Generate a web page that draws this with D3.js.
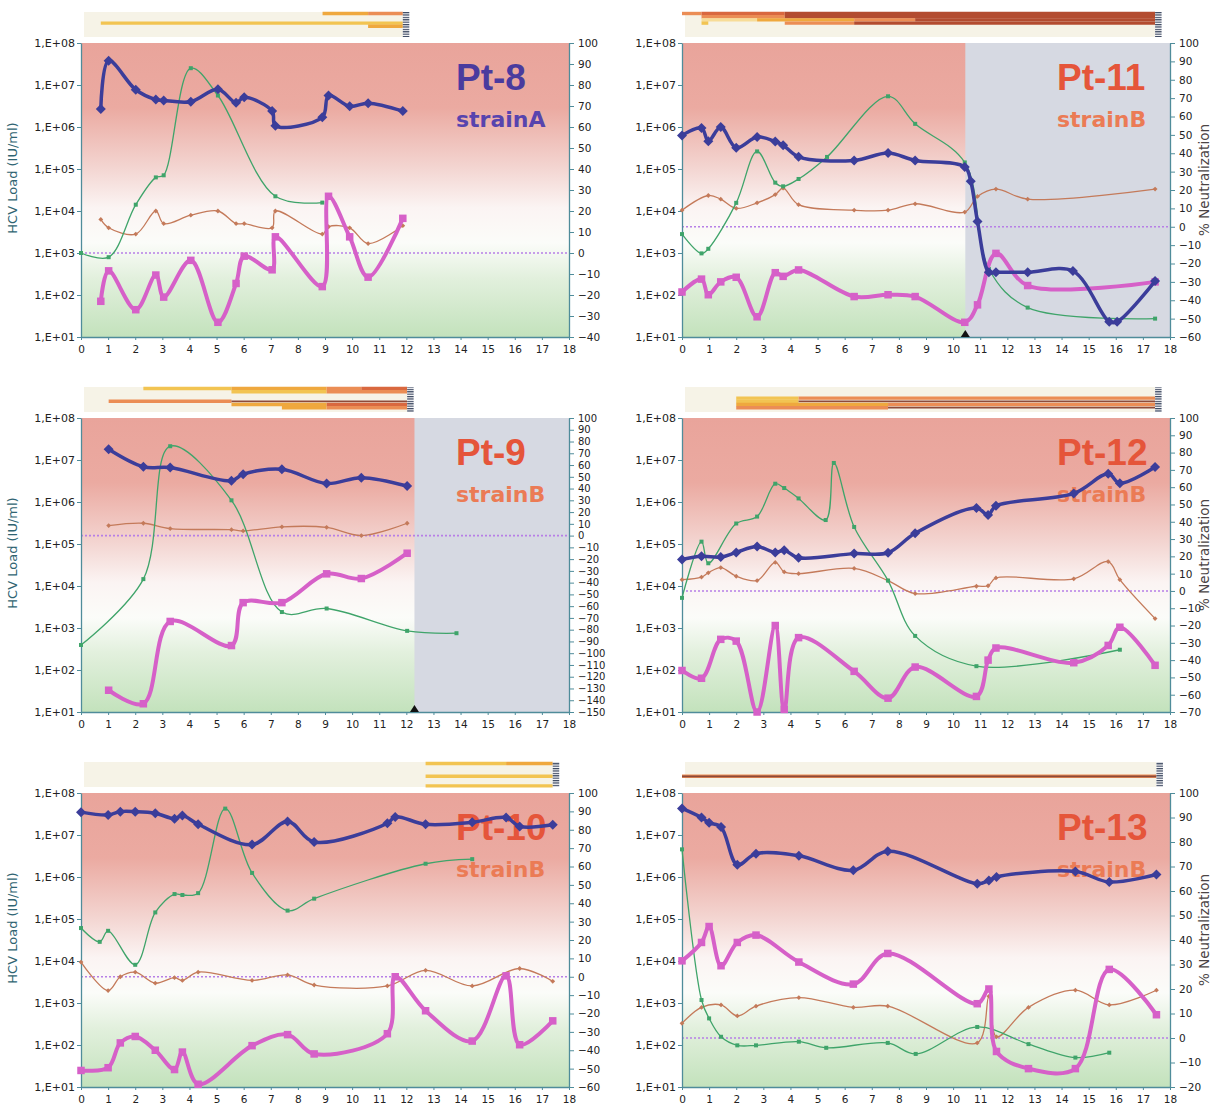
<!DOCTYPE html>
<html>
<head>
<meta charset="utf-8">
<script src="https://cdn.jsdelivr.net/npm/d3@7"></script>
<style>
  body { margin: 0; background: #fff; }
  svg { display: block; }
</style>
</head>
<body>
<svg id="chart" width="1215" height="1110"></svg>
<script>
// ---------------- data: sampling weeks and measured series per patient ----------------
// HCV load (IU/ml, left log axis); green / orange / magenta: % neutralization (right axis)

const pt8Weeks   = [0, 0.73, 1.02, 2.02, 2.76, 3.05, 4.05, 5.05, 5.72, 6.02, 7.05, 7.17, 8.9, 9.13, 9.91, 10.59, 11.87];
const pt8Load    = [null, 2.7e6, 3.8e7, 7.7e6, 4.5e6, 4.3e6, 4.0e6, 7.9e6, 3.8e6, 5.1e6, 2.4e6, 1.07e6, 1.7e6, 5.6e6, 3.1e6, 3.7e6, 2.4e6];
const pt8Green   = [0, null, -2, 23, 36, 37, 88, 75, null, null, null, 27, 24, null, null, null, null];
const pt8Orange  = [null, 16, 12, 9, 20, 14, 18, 20, 14, 14, 12, 20, 9, 12.5, 12, 4.5, 13];
const pt8Magenta = [null, -23, -8.5, -27, -10.5, -21, -3.5, -33, -14.5, -1.5, -8, 7.7, -16, 27, 7.7, -11.5, 16.5];

const pt11Weeks   = [0, 0.72, 0.97, 1.43, 2.0, 2.77, 3.44, 3.73, 4.30, 5.35, 6.35, 7.6, 8.6, 10.43, 10.65, 10.9, 11.32, 11.58, 12.75, 14.42, 15.76, 16.05, 17.45];
const pt11Load    = [6.3e5, 9.5e5, 4.6e5, 1.0e6, 3.2e5, 5.8e5, 4.5e5, 3.7e5, 1.95e5, null, 1.6e5, 2.4e5, 1.6e5, 1.12e5, 5.1e4, 5.6e3, 347, 347, 347, 372, 23, 23, 214];
const pt11Green   = [-4, -14.5, -12, null, 13, 41, 24, 22, 26, 38, null, 71, 56, 35, null, null, -23, null, -44, null, null, null, -50];
const pt11Orange  = [9, null, 17, 15, 10, 13, 17.5, 21, 12, null, 9, 9, 12.5, 8, null, 16.5, null, 20.5, 15, null, null, null, 20.5];
const pt11Magenta = [-35.5, -28.5, -37, -30, -27.5, -49, -25, -27, -23.5, null, -38, -37, -38, -52, null, -42.5, null, -14.5, -32, null, null, null, -30];

const pt9Weeks   = [0, 1.02, 2.30, 3.29, 5.55, 5.98, 7.41, 9.06, 10.34, 12.03, 13.85];
const pt9Load    = [null, 1.8e7, 6.9e6, 6.6e6, 3.2e6, 4.6e6, 6.0e6, 2.75e6, 3.8e6, 2.4e6, null];
const pt9Green   = [-93, null, -37, 76, 30, null, -65, -62, null, -81, -83];
const pt9Orange  = [null, 8.5, 10.5, 6, 5, 4, 7.5, 7, 0, 10.5, null];
const pt9Magenta = [null, -131.5, -143, -73, -93.5, -57, -57, -32.5, -36.5, -15, null];

const pt12Weeks   = [0, 0.72, 0.97, 1.43, 2.0, 2.77, 3.44, 3.77, 4.30, 5.30, 5.60, 6.35, 7.6, 8.6, 10.86, 11.29, 11.58, 14.45, 15.72, 16.15, 17.45];
const pt12Load    = [4.3e4, 5.1e4, null, 4.9e4, 6.3e4, 8.7e4, 6.3e4, 7.1e4, 4.7e4, null, null, 5.9e4, 6.2e4, 1.8e5, 7.2e5, 4.9e5, 8.1e5, 1.6e6, 4.7e6, 2.8e6, 6.8e6];
const pt12Green   = [-4, 28.5, 16, null, 39, 43, 62, 59.5, 53.5, 41, 74, 37, 6, -26, -43.5, null, null, null, null, -34, null];
const pt12Orange  = [6.5, 8, 10.5, 13.5, 8.5, 6, 16.5, 11, 10, null, null, 13, 6, -1.5, 2.7, 3, 7.5, 7, 17, 6.5, -16];
const pt12Magenta = [-46, -50.5, null, -28, -29, -70, -20, -68.5, -27, null, null, -46.5, -62, -44, -61, -40, -33, -41.5, -31.5, -21, -43];

const pt10Weeks   = [0, 0.69, 1.0, 1.45, 2.0, 2.74, 3.45, 3.74, 4.32, 5.32, 6.31, 7.62, 8.6, 11.30, 11.59, 12.71, 14.43, 15.68, 16.18, 17.4];
const pt10Load    = [3.5e7, null, 3.0e7, 3.6e7, 3.6e7, 3.3e7, 2.45e7, 2.9e7, 1.8e7, null, 5.9e6, 2.1e7, 6.8e6, 1.9e7, 2.7e7, 1.8e7, 2.0e7, 2.6e7, 1.6e7, 1.75e7];
const pt10Green   = [26.5, 19, 25, null, 6.5, 35, 45, 44.5, 45.5, 91.5, 56.5, 36, 42.5, null, null, 61.5, 64, null, null, null];
const pt10Orange  = [8, null, -7.5, 0, 2.5, -3.5, -0.5, -2, 2.5, null, -2, 1, -4.5, -5, null, 3.5, -5, null, 4.5, -2.5];
const pt10Magenta = [-51, null, -49.5, -36, -32.5, -40, -50.5, -41, -58.5, null, -37.5, -31.5, -42, -31, 0, -18.5, -35, 0.5, -37, -24];

const pt13Weeks   = [0, 0.72, 1.0, 1.44, 2.04, 2.73, 4.31, 5.32, 6.32, 7.59, 8.62, 10.89, 11.32, 11.6, 12.78, 14.51, 15.76, 17.5];
const pt13Load    = [4.3e7, 2.6e7, 1.95e7, 1.55e7, 1.95e6, 3.6e6, 3.2e6, null, 1.45e6, 4.1e6, null, 6.9e5, 8.3e5, 1.0e6, null, 1.35e6, 7.6e5, 1.15e6];
const pt13Green   = [77, 15.5, 8, 0.5, -3, -3, -1.5, -4, null, -2, -6.5, 4.5, null, null, -2.5, -8, -6, null];
const pt13Orange  = [6, 12.5, null, 13.5, 9, 13, 16.5, null, 12.5, 13, null, -2, 17, 0.5, 12.5, 19.5, 13.5, 19.5];
const pt13Magenta = [31.5, 39, 45.5, 29.5, 39, 42, 31, null, 22, 34.5, null, 14, 20, -5.5, -12.5, -12.5, 28, 9.5];

// variant tracks above each panel: [track, fromWeek, toWeek, frequency level]
const pt8Tracks  = [[0, 8.91, 10.59, 3], [0, 10.59, 11.87, 4], [3, 0.73, 11.87, 2], [4, 10.59, 11.87, 3]];
const pt11Tracks = [[0, 0, 0.72, 4], [0, 0.72, 3.79, 5], [0, 3.79, 17.45, 6],
                    [1, 0.72, 3.79, 4], [1, 3.79, 17.45, 6],
                    [2, 0.72, 2.77, 1], [2, 2.77, 6.35, 3], [2, 6.35, 8.6, 4], [2, 8.6, 17.45, 6],
                    [3, 0.72, 0.97, 2], [3, 3.79, 6.35, 4], [3, 6.35, 17.45, 6]];
const pt9Tracks  = [[0, 2.30, 5.55, 2], [0, 5.55, 9.06, 3], [0, 9.06, 10.34, 4], [0, 10.34, 12.03, 5],
                    [1, 5.55, 9.06, 2], [1, 9.06, 12.03, 4],
                    [4, 1.02, 5.55, 4], [4, 5.55, 12.03, 7],
                    [5, 5.55, 9.06, 3], [5, 9.06, 12.03, 5],
                    [6, 7.41, 9.06, 3], [6, 9.06, 12.03, 4]];
const pt12Tracks = [[3, 2.0, 4.30, 2], [3, 4.30, 17.45, 4], [4, 2.0, 4.30, 2], [4, 4.30, 17.45, 7],
                    [5, 2.0, 7.6, 3], [5, 7.6, 17.45, 4], [6, 2.0, 7.6, 4], [6, 7.6, 17.45, 7]];
const pt10Tracks = [[0, 12.71, 15.68, 2], [0, 15.68, 17.4, 3], [4, 12.71, 17.4, 2], [7, 12.71, 17.4, 2]];
const pt13Tracks = [[4, 0, 17.5, 4], [4, 0, 17.5, 7]];

const xTicks = d3.range(0, 19);
const loadTicks = [1e1, 1e2, 1e3, 1e4, 1e5, 1e6, 1e7, 1e8];

// ---------------- layout ----------------
const COLS = [{ left: 81, right: 569 }, { left: 682, right: 1170 }];
const ROWS = [43, 418, 793];
const PLOT_H = 294;

const panels = [
  { name: "Pt-8",  strain: "strainA", col: 0, row: 0, weeks: pt8Weeks,  load: pt8Load,  green: pt8Green,  orange: pt8Orange,  magenta: pt8Magenta,  rMin: -40,  tracks: pt8Tracks,  shadeFrom: null,  marker: null,  titleColor: "#4a3b9e", strainColor: "#5744ae" },
  { name: "Pt-11", strain: "strainB", col: 1, row: 0, weeks: pt11Weeks, load: pt11Load, green: pt11Green, orange: pt11Orange, magenta: pt11Magenta, rMin: -60,  tracks: pt11Tracks, shadeFrom: 10.45, marker: 10.45, titleColor: "#e5553a", strainColor: "#eb7b55" },
  { name: "Pt-9",  strain: "strainB", col: 0, row: 1, weeks: pt9Weeks,  load: pt9Load,  green: pt9Green,  orange: pt9Orange,  magenta: pt9Magenta,  rMin: -150, tracks: pt9Tracks,  shadeFrom: 12.3,  marker: 12.3,  titleColor: "#e5553a", strainColor: "#eb7b55" },
  { name: "Pt-12", strain: "strainB", col: 1, row: 1, weeks: pt12Weeks, load: pt12Load, green: pt12Green, orange: pt12Orange, magenta: pt12Magenta, rMin: -70,  tracks: pt12Tracks, shadeFrom: null,  marker: null,  titleColor: "#e5553a", strainColor: "#eb7b55" },
  { name: "Pt-10", strain: "strainB", col: 0, row: 2, weeks: pt10Weeks, load: pt10Load, green: pt10Green, orange: pt10Orange, magenta: pt10Magenta, rMin: -60,  tracks: pt10Tracks, shadeFrom: null,  marker: null,  titleColor: "#e5553a", strainColor: "#eb7b55" },
  { name: "Pt-13", strain: "strainB", col: 1, row: 2, weeks: pt13Weeks, load: pt13Load, green: pt13Green, orange: pt13Orange, magenta: pt13Magenta, rMin: -20,  tracks: pt13Tracks, shadeFrom: null,  marker: null,  titleColor: "#e5553a", strainColor: "#eb7b55" }
];

const levelColor = d3.scaleOrdinal()
  .domain([1, 2, 3, 4, 5, 6, 7])
  .range(["#f7dc98", "#f2c452", "#efa83e", "#eb8d55", "#d9683f", "#b34c30", "#8d4a3a"]);

const C = {
  blue: "#3b3d9a", magenta: "#d660c8", green: "#3fa46a", orange: "#c47a5a",
  zero: "#b77fe6", axis: "#4f8c9a", tickText: "#222", shade: "#d6d9e2"
};
const TICK_FONT = "'DejaVu Sans', Verdana, sans-serif";

const svg = d3.select("#chart");
const defs = svg.append("defs");

// plot-area fill: warm at the top, white through the middle, green at the bottom
const grad = defs.append("linearGradient").attr("id", "bgGrad")
  .attr("x1", 0).attr("y1", 0).attr("x2", 0).attr("y2", 1);
[[0, "#e9a49b"], [0.22, "#ebaaa1"], [0.42, "#f3d4d0"], [0.56, "#fbf4f3"],
 [0.68, "#fbfcf9"], [0.8, "#e2f0dd"], [1, "#c3e2bc"]]
  .forEach(([o, c]) => grad.append("stop").attr("offset", o).attr("stop-color", c));

// striped end-cap of the variant track strip
const pat = defs.append("pattern").attr("id", "barcode")
  .attr("patternUnits", "userSpaceOnUse").attr("width", 8).attr("height", 2.4);
pat.append("rect").attr("width", 8).attr("height", 2.4).attr("fill", "#ffffff");
pat.append("rect").attr("width", 8).attr("height", 1.2).attr("fill", "#36425c");

const diamond = r => `M0,${-r}L${r},0L0,${r}L${-r},0Z`;

panels.forEach((p, i) => {
  const L = COLS[p.col].left, R = COLS[p.col].right;
  const T = ROWS[p.row], B = T + PLOT_H;

  const x = d3.scaleLinear().domain([0, 18]).range([L, R]);
  const yL = d3.scaleLog().domain([1e1, 1e8]).range([B, T]);
  const yR = d3.scaleLinear().domain([p.rMin, 100]).range([B, T]);

  const g = svg.append("g").attr("class", "panel");

  defs.append("clipPath").attr("id", `clip${i}`)
    .append("rect").attr("x", L - 2).attr("y", T - 4).attr("width", R - L + 4).attr("height", B - T + 8);

  // background
  g.append("rect").attr("x", L).attr("y", T).attr("width", R - L).attr("height", B - T)
    .attr("fill", "url(#bgGrad)");
  if (p.shadeFrom != null) {
    g.append("rect").attr("x", x(p.shadeFrom)).attr("y", T)
      .attr("width", R - x(p.shadeFrom)).attr("height", B - T).attr("fill", C.shade);
  }

  // variant track strip above the plot
  const trackEnd = d3.max(p.tracks, d => d[2]);
  const strip = g.append("g");
  strip.append("rect").attr("x", x(0) + 3).attr("y", T - 31)
    .attr("width", x(trackEnd) - x(0) - 3).attr("height", 25).attr("fill", "#f6f3e7");
  strip.selectAll("line").data(p.tracks).join("line")
    .attr("x1", d => x(d[1])).attr("x2", d => x(d[2]))
    .attr("y1", d => T - 29.5 + d[0] * 3.2).attr("y2", d => T - 29.5 + d[0] * 3.2)
    .attr("stroke", d => levelColor(d[3]))
    .attr("stroke-width", d => d[3] === 7 ? 1.8 : 3.4);
  strip.append("rect").attr("x", x(trackEnd)).attr("y", T - 31)
    .attr("width", 6.5).attr("height", 25).attr("fill", "url(#barcode)");

  // patient / strain label
  g.append("text").attr("x", R - 113).attr("y", T + 47)
    .attr("font-family", "'Liberation Sans', Arial, sans-serif").attr("font-weight", "bold")
    .attr("font-size", 37).attr("fill", p.titleColor).text(p.name);
  g.append("text").attr("x", R - 113).attr("y", T + 84)
    .attr("font-family", TICK_FONT).attr("font-weight", "bold")
    .attr("font-size", 22).attr("fill", p.strainColor).text(p.strain);

  // zero-neutralization reference
  g.append("line").attr("x1", L).attr("x2", R).attr("y1", yR(0)).attr("y2", yR(0))
    .attr("stroke", C.zero).attr("stroke-width", 1.6).attr("stroke-dasharray", "2,2");

  // axes
  const axL = g.append("g").attr("transform", `translate(${L},0)`)
    .call(d3.axisLeft(yL).tickValues(loadTicks).tickSize(4).tickSizeOuter(0).tickPadding(2)
      .tickFormat(v => "1,E+" + String(Math.round(Math.log10(v))).padStart(2, "0")));
  const axR = g.append("g").attr("transform", `translate(${R},0)`)
    .call(d3.axisRight(yR).tickValues(d3.range(p.rMin, 101, 10)).tickSize(5).tickSizeOuter(0).tickPadding(4));
  const axB = g.append("g").attr("transform", `translate(0,${B})`)
    .call(d3.axisBottom(x).tickValues(xTicks).tickSize(3).tickSizeOuter(0).tickPadding(6));
  [axL, axR, axB].forEach(a => {
    a.select(".domain").attr("stroke", C.axis).attr("stroke-width", 1.3);
    a.selectAll(".tick line").attr("stroke", C.axis);
    a.selectAll(".tick text").attr("font-family", TICK_FONT).attr("font-size", 10.5).attr("fill", C.tickText);
  });
  axL.selectAll(".tick text").attr("font-size", 11);
  axR.selectAll(".tick text").attr("font-size", p.rMin < -100 ? 10 : 10.5);

  if (p.col === 0) {
    g.append("text").attr("transform", `translate(17,${T + 135}) rotate(-90)`)
      .attr("text-anchor", "middle").attr("font-family", TICK_FONT).attr("font-size", 13)
      .attr("fill", "#2f6472").text("HCV Load (IU/ml)");
  } else {
    g.append("text").attr("transform", `translate(1209,${T + 137}) rotate(-90)`)
      .attr("text-anchor", "middle").attr("font-family", TICK_FONT).attr("font-size", 13.5)
      .attr("fill", "#4a4444").text("% Neutralization");
  }

  if (p.marker != null) {
    const cx = x(p.marker);
    g.append("path").attr("d", `M${cx},${B - 7}L${cx + 4.5},${B}L${cx - 4.5},${B}Z`).attr("fill", "#111");
  }

  // series (smoothed through the measured points)
  const pts = vals => p.weeks.map((w, k) => [w, vals[k]]).filter(d => d[1] != null);
  const curve = d3.curveCatmullRom.alpha(0.5);
  const plot = g.append("g");

  function drawSeries(vals, y, color, width, shape, size) {
    const data = pts(vals);
    plot.append("path").datum(data)
      .attr("clip-path", `url(#clip${i})`)
      .attr("fill", "none").attr("stroke", color).attr("stroke-width", width)
      .attr("stroke-linejoin", "round")
      .attr("d", d3.line().x(d => x(d[0])).y(d => y(d[1])).curve(curve));
    if (shape === "square") {
      plot.selectAll(null).data(data).join("rect")
        .attr("x", d => x(d[0]) - size / 2).attr("y", d => y(d[1]) - size / 2)
        .attr("width", size).attr("height", size).attr("fill", color);
    } else {
      plot.selectAll(null).data(data).join("path")
        .attr("transform", d => `translate(${x(d[0])},${y(d[1])})`)
        .attr("d", diamond(size)).attr("fill", color);
    }
  }

  drawSeries(p.orange, yR, C.orange, 1.3, "diamond", 2.4);
  drawSeries(p.green, yR, C.green, 1.3, "square", 4);
  drawSeries(p.magenta, yR, C.magenta, 4, "square", 7.5);
  drawSeries(p.load, yL, C.blue, 3.5, "diamond", 5);
});
</script>
</body>
</html>
